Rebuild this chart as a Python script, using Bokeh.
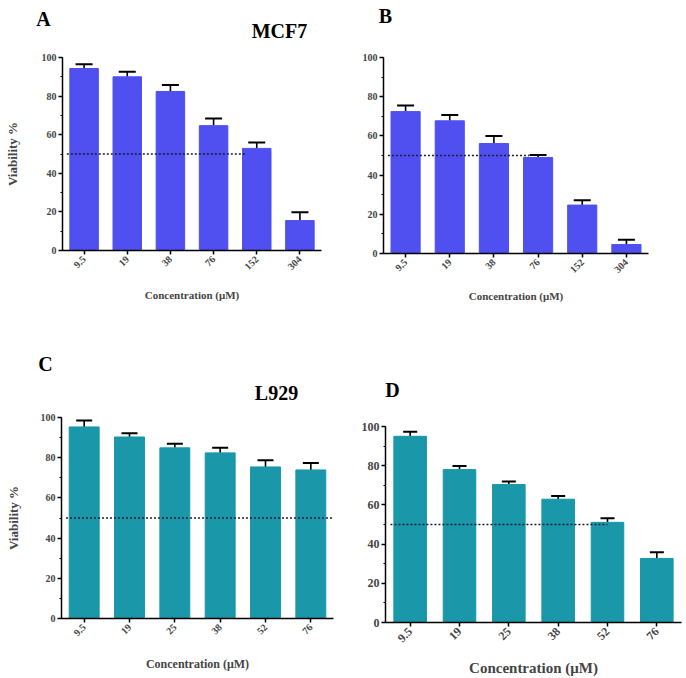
import math
from bokeh.plotting import figure
from bokeh.models import Range1d, SingleIntervalTicker, Whisker, TeeHead, Label, ColumnDataSource
from bokeh.layouts import column, row
from bokeh.embed import file_html
from bokeh.resources import INLINE

# ---- data ----
conc_mcf7 = ["9.5", "19", "38", "76", "152", "304"]
via_A = [94.3, 90.0, 82.4, 64.7, 52.9, 15.5]
err_A = [2.2, 2.6, 3.3, 3.7, 3.1, 4.3]
via_B = [72.4, 67.7, 56.1, 49.0, 24.7, 4.6]
err_B = [3.1, 3.0, 3.9, 1.3, 2.5, 2.4]

conc_l929 = ["9.5", "19", "25", "38", "52", "76"]
via_C = [95.3, 90.3, 84.9, 82.4, 75.4, 73.9]
err_C = [3.2, 1.9, 2.1, 2.6, 3.3, 3.5]
via_D = [95.0, 78.0, 70.4, 62.9, 51.1, 32.7]
err_D = [2.3, 1.9, 1.6, 1.7, 2.1, 3.1]

ref_level = 50
BLUE = "#5050F0"
TEAL = "#1A97A8"
FONT = "Liberation Serif"


def header(w, h, labels):
    p = figure(width=w, height=h, min_border=0, x_axis_location=None, y_axis_location=None,
               output_backend="svg", toolbar_location=None)
    p.outline_line_color = None
    p.xgrid.visible = False
    p.ygrid.visible = False
    for text, x, y, size in labels:
        p.add_layout(Label(x=x, y=y, x_units="screen", y_units="screen", text=text,
                           text_font=FONT, text_font_style="bold", text_font_size=size,
                           text_color="black", text_align="center", text_baseline="middle"))
    return p


def panel(cats, vals, errs, color, w, h, borders, ref_start, ref_end, ylabel, ylabel_standoff,
          tick_size, xlabel_size, xlabel_standoff, cap):
    bl, br, bt, bb = borders
    p = figure(x_range=cats, y_range=Range1d(0, 100), width=w, height=h,
               min_border_left=bl, min_border_right=br, min_border_top=bt, min_border_bottom=bb,
               output_backend="svg", toolbar_location=None)
    p.outline_line_color = None
    p.xgrid.visible = False
    p.ygrid.visible = False
    src = ColumnDataSource(dict(x=cats, top=vals, upper=[v + e for v, e in zip(vals, errs)]))
    p.vbar(x="x", top="top", width=0.66, source=src, fill_color=color, line_color=color)
    wsk = Whisker(base="x", lower="top", upper="upper", source=src, line_color="black", line_width=1.6,
                  lower_head=None, upper_head=TeeHead(size=cap, line_color="black", line_width=2))
    p.add_layout(wsk)
    p.segment(x0=[ref_start], y0=[ref_level], x1=[ref_end], y1=[ref_level],
              line_color="#1a1a2e", line_width=1.6, line_dash="2 2")

    ya = p.yaxis[0]
    ya.ticker = SingleIntervalTicker(interval=20, num_minor_ticks=2)
    ya.axis_line_width = 1.5
    ya.major_tick_line_width = 1.5
    ya.major_tick_out = 4
    ya.major_tick_in = 0
    ya.minor_tick_out = 2
    ya.minor_tick_in = 0
    ya.major_label_text_font = FONT
    ya.major_label_text_font_style = "bold"
    ya.major_label_text_font_size = tick_size
    ya.major_label_standoff = 2
    if ylabel:
        ya.axis_label = ylabel
        ya.axis_label_text_font = FONT
        ya.axis_label_text_font_style = "bold"
        ya.axis_label_text_font_size = "13px"
        ya.axis_label_standoff = ylabel_standoff

    xa = p.xaxis[0]
    xa.axis_line_width = 1.5
    xa.major_tick_line_width = 1.5
    xa.major_tick_out = 4
    xa.major_tick_in = 0
    xa.major_label_orientation = math.pi / 4
    xa.major_label_text_font = FONT
    xa.major_label_text_font_style = "bold"
    xa.major_label_text_font_size = tick_size
    xa.major_label_standoff = 3
    xa.axis_label = "Concentration (μM)"
    xa.axis_label_text_font = FONT
    xa.axis_label_text_font_style = "bold"
    xa.axis_label_text_font_size = xlabel_size
    xa.axis_label_standoff = xlabel_standoff
    return p


hA = header(343, 50, [("A", 43, 32, "20px"), ("MCF7", 279, 20, "20px")])
hB = header(343, 50, [("B", 42, 35, "20px")])
hC = header(343, 70, [("C", 45, 47, "20px"), ("L929", 276, 18, "20px")])
hD = header(343, 79, [("D", 49, 30, "20px")])

pA = panel(conc_mcf7, via_A, err_A, BLUE, 343, 290, (62, 22, 7, 90),
           (conc_mcf7[0], -0.4), (conc_mcf7[4], -0.25), "Viability %", 19,
           "10px", "11px", 13, 17)
pB = panel(conc_mcf7, via_B, err_B, BLUE, 343, 290, (40, 38, 7, 87),
           (conc_mcf7[0], -0.4), (conc_mcf7[3], -0.2), None, 0,
           "10px", "11px", 11, 17)
pC = panel(conc_l929, via_C, err_C, TEAL, 343, 268, (61, 10, 7, 60),
           (conc_l929[0], -0.4), (conc_l929[5], 0.5), "Viability %", 17,
           "10px", "12px", 15, 16)
pD = panel(conc_l929, via_D, err_D, TEAL, 343, 259, (42, 5, 7, 56),
           (conc_l929[0], -0.4), (conc_l929[4], 0.0), None, 0,
           "12px", "15px", 11, 14)

layout = column(row(column(row(hA), pA), column(row(hB), pB)),
                row(column(row(hC), pC), column(row(hD), pD)))
open("out.html", "w").write(file_html(layout, INLINE))
